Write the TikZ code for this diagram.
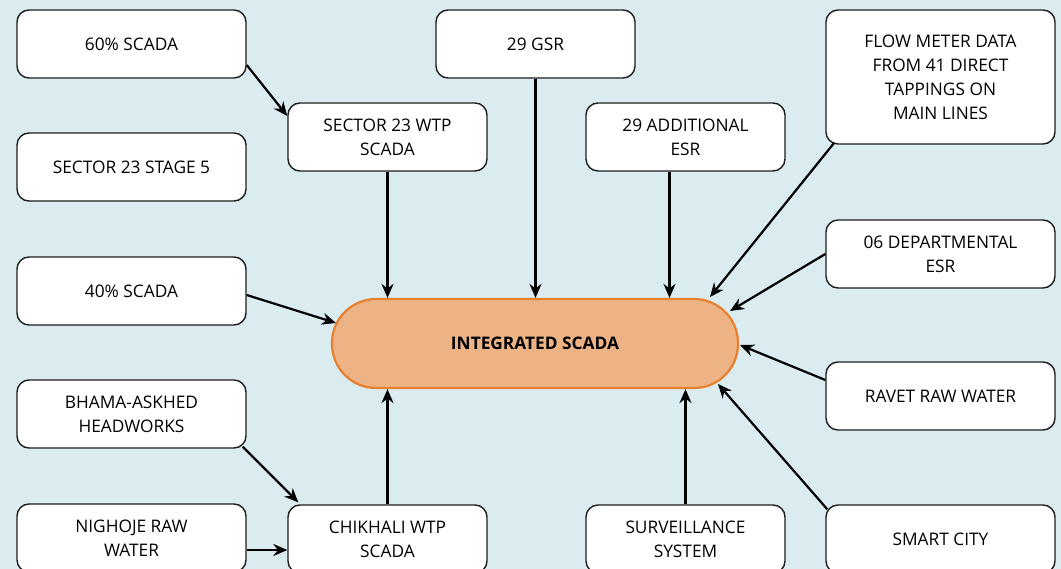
\documentclass[tikz,border=0pt]{standalone}
\usepackage{fontspec}
\setmainfont{Open Sans}
\usetikzlibrary{arrows.meta}
\definecolor{bgc}{RGB}{218,236,240}
\definecolor{ofill}{RGB}{237,179,133}
\definecolor{oline}{RGB}{232,128,48}
\definecolor{bline}{RGB}{30,30,30}
\tikzset{
  box/.style={draw=bline, line width=1.4pt, fill=white, rounded corners=12pt, align=center,
    font=\fontsize{17.3}{24}\selectfont, inner sep=2pt},
  wbox/.style={box, minimum width=229pt, minimum height=68pt},
  nbox/.style={box, minimum width=199pt, minimum height=68pt},
  hub/.style={draw=oline, line width=2.2pt, fill=ofill, rounded corners=44pt, minimum width=406pt,
    minimum height=89pt, font=\fontsize{17.3}{24}\selectfont\bfseries},
  conn/.style={line width=2.2pt, -{Stealth[length=14pt,width=12pt]}}
}
\begin{document}
\begin{tikzpicture}[x=1pt,y=-1pt]
\useasboundingbox[fill=bgc] (0,0) rectangle (1061,569);
\node[wbox] (sixty) at (131.5,44) {60\% SCADA};
\node[wbox] (stage) at (131.5,167) {SECTOR 23 STAGE 5};
\node[wbox] (forty) at (131.5,291) {40\% SCADA};
\node[wbox] (bhama) at (131.5,414) {BHAMA-ASKHED\\HEADWORKS};
\node[wbox] (nighoje) at (131.5,538) {NIGHOJE RAW\\WATER};
\node[nbox] (wtp) at (387.5,137) {SECTOR 23 WTP\\SCADA};
\node[nbox] (chikhali) at (387.5,539) {CHIKHALI WTP\\SCADA};
\node[nbox] (gsr) at (535.5,44) {29 GSR};
\node[nbox] (esr) at (685.5,137) {29 ADDITIONAL\\ESR};
\node[nbox] (surv) at (685.5,539) {SURVEILLANCE\\SYSTEM};
\node[wbox, minimum height=134pt] (flow) at (940.5,77) {FLOW METER DATA\\FROM 41 DIRECT\\TAPPINGS ON\\MAIN LINES};
\node[wbox] (dept) at (940.5,254) {06 DEPARTMENTAL\\ESR};
\node[wbox] (ravet) at (940.5,396) {RAVET RAW WATER};
\node[wbox] (smart) at (940.5,539) {SMART CITY};
\node[hub] (hub) at (535,343.5) {INTEGRATED SCADA};

\draw[conn] ([yshift=-21pt]sixty.east) -- ([yshift=21pt]wtp.west);
\draw[conn] (wtp.south) -- (wtp.south |- hub.north);
\draw[conn] (gsr.south) -- (gsr.south |- hub.north);
\draw[conn] ([xshift=-16pt]esr.south) -- ([xshift=-16pt]esr.south |- hub.north);
\draw[conn] ([xshift=9pt,yshift=2pt]flow.south west) -- (710,297);
\draw[conn] (dept.west) -- (730,311);
\draw[conn] ([yshift=16pt]ravet.west) -- (740,345);
\draw[conn] ([xshift=2pt,yshift=-5pt]smart.north west) -- (718,384);
\draw[conn] (surv.north) -- (surv.north |- hub.south);
\draw[conn] (chikhali.north) -- (chikhali.north |- hub.south);
\draw[conn] ([xshift=-4pt,yshift=2pt]bhama.south east) -- ([xshift=11pt,yshift=2pt]chikhali.north west);
\draw[conn] ([yshift=-12pt]nighoje.east) -- ([yshift=-12pt]nighoje.east -| chikhali.west);
\draw[conn] ([yshift=-4pt]forty.east) -- (336,323);
\end{tikzpicture}
\end{document}
